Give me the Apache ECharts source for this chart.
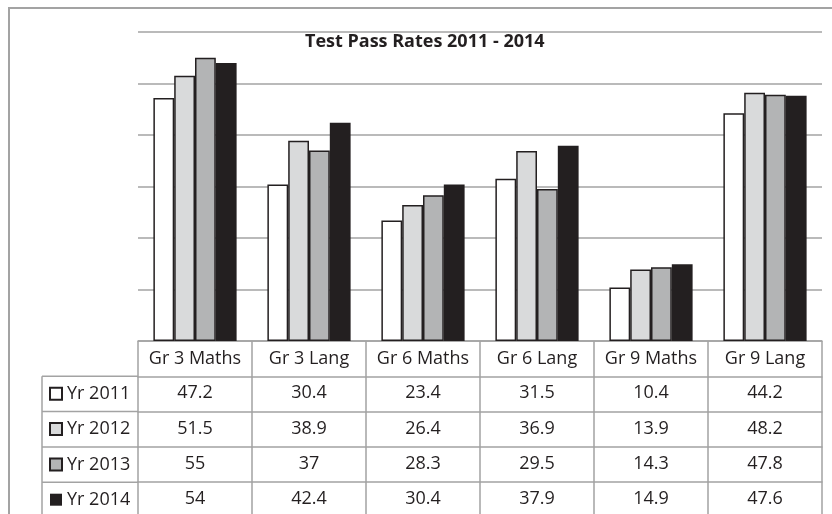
<!DOCTYPE html>
<html>
<head>
<meta charset="utf-8">
<script src="https://cdn.jsdelivr.net/npm/echarts@6/dist/echarts.min.js"></script>
<style>
  html, body { margin: 0; padding: 0; background: #fff; }
  #chart { width: 832px; height: 514px; }
</style>
</head>
<body>
<div id="chart"></div>
<script>
// data
var categories = ['Gr 3 Maths', 'Gr 3 Lang', 'Gr 6 Maths', 'Gr 6 Lang', 'Gr 9 Maths', 'Gr 9 Lang'];
var years = ['Yr 2011', 'Yr 2012', 'Yr 2013', 'Yr 2014'];
var yr2011 = [47.2, 30.4, 23.4, 31.5, 10.4, 44.2];
var yr2012 = [51.5, 38.9, 26.4, 36.9, 13.9, 48.2];
var yr2013 = [55, 37, 28.3, 29.5, 14.3, 47.8];
var yr2014 = [54, 42.4, 30.4, 37.9, 14.9, 47.6];
var rows = [yr2011, yr2012, yr2013, yr2014];

var colors = ['#ffffff', '#d9dadb', '#b3b4b5', '#231f20'];
var ink = '#231f20';
var lineGray = '#a3a3a3';
var font = 'Open Sans';
var rowH = 35.3;

var myChart = echarts.init(document.getElementById('chart'));

// table rows are drawn as extra category axes under the plot
var xAxes = [{
    type: 'category',
    data: categories,
    position: 'bottom',
    axisLine: { lineStyle: { color: lineGray, width: 1.5 } },
    axisTick: { show: true, interval: 0, length: rowH, lineStyle: { color: lineGray, width: 1.5 } },
    axisLabel: { interval: 0, margin: 9, color: ink, fontSize: 18, fontFamily: font }
}];
rows.forEach(function (r, i) {
    xAxes.push({
        type: 'category',
        data: r.map(String),
        position: 'bottom',
        offset: rowH * (i + 1),
        axisLine: { lineStyle: { color: lineGray, width: 1.5 } },
        axisTick: { show: true, interval: 0, length: rowH, lineStyle: { color: lineGray, width: 1.5 } },
        axisLabel: { interval: 0, margin: 8, color: ink, fontSize: 18, fontFamily: font }
    });
});

var series = years.map(function (name, i) {
    return {
        name: name,
        type: 'bar',
        data: rows[i],
        barGap: 0,
        barCategoryGap: '27%',
        itemStyle: {
            color: colors[i],
            borderColor: ink,
            borderWidth: i === 3 ? 0 : 1.5
        }
    };
});

// legend cell borders on the left of the table
var legLines = [{ type: 'line', shape: { x1: 42, y1: 341 + rowH, x2: 42, y2: 530 },
    style: { stroke: lineGray, lineWidth: 1.5 } }];
for (var k = 1; k <= 4; k++) {
    legLines.push({ type: 'line', shape: { x1: 42, y1: 341 + rowH * k, x2: 138, y2: 341 + rowH * k },
        style: { stroke: lineGray, lineWidth: 1.5 } });
}

option = {
    animation: false,
    color: colors,
    title: {
        text: 'Test Pass Rates 2011 - 2014',
        left: 305,
        top: 33,
        padding: 0,
        textStyle: { color: ink, fontSize: 18, fontWeight: 'bold', fontFamily: font }
    },
    legend: {
        data: years,
        orient: 'vertical',
        left: 49,
        top: 341 + rowH + 7.5,
        padding: 0,
        icon: 'rect',
        itemWidth: 12,
        itemHeight: 12,
        itemGap: rowH - 20,
        textStyle: { color: ink, fontSize: 18, fontFamily: font, lineHeight: 20 }
    },
    grid: { left: 138, right: 10, top: 32, bottom: 173, containLabel: false },
    xAxis: xAxes,
    yAxis: {
        type: 'value',
        min: 0,
        max: 60,
        interval: 10,
        axisLine: { show: false },
        axisTick: { show: false },
        axisLabel: { show: false },
        splitLine: { lineStyle: { color: lineGray, width: 1.5 } }
    },
    graphic: [
        { type: 'rect', shape: { x: 9, y: 8, width: 900, height: 600 },
          style: { fill: 'none', stroke: lineGray, lineWidth: 2 }, z: -1 }
    ].concat(legLines),
    series: series
};

myChart.setOption(option, true);
</script>
</body>
</html>
